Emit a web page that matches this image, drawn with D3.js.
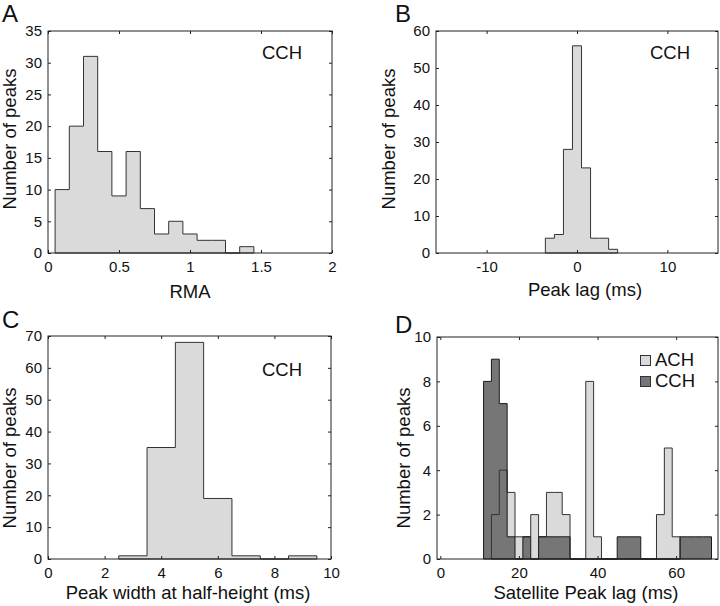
<!DOCTYPE html>
<html>
<head>
<meta charset="utf-8">
<script src="https://cdn.jsdelivr.net/npm/d3@7"></script>
<style>
  html, body { margin: 0; padding: 0; background: #fff; }
  svg { display: block; }
  text { font-family: "Liberation Sans", Arial, Helvetica, sans-serif; fill: #111; }
</style>
</head>
<body>
<svg id="chart" width="720" height="606"></svg>
<script>
// ---------------- DATA ----------------
// Panel A: RMA histogram (bin width 0.1)
const rmaCenters = [0.1, 0.2, 0.3, 0.4, 0.5, 0.6, 0.7, 0.8, 0.9, 1.0, 1.1, 1.2, 1.3, 1.4];
const rmaCounts  = [10, 20, 31, 16, 9, 16, 7, 3, 5, 3, 2, 2, 0, 1];
const rmaXTicks = [0, 0.5, 1, 1.5, 2];
const rmaYTicks = [0, 5, 10, 15, 20, 25, 30, 35];

// Panel B: peak lag histogram (bin width 1 ms)
const lagCenters = [-3, -2, -1, 0, 1, 2, 3, 4];
const lagCounts  = [4, 5, 28, 56, 23, 4, 4, 1];
const lagXTicks = [-10, 0, 10];
const lagYTicks = [0, 10, 20, 30, 40, 50, 60];

// Panel C: peak width at half-height (bin width 1 ms)
const widthCenters = [3, 4, 5, 6, 7, 8, 9];
const widthCounts  = [1, 35, 68, 19, 1, 0, 1];
const widthXTicks = [0, 2, 4, 6, 8, 10];
const widthYTicks = [0, 10, 20, 30, 40, 50, 60, 70];

// Panel D: satellite peak lag (bin width 2 ms)
const achCenters = [14, 16, 18, 20, 22, 24, 26, 28, 30, 32, 34, 36, 38, 40, 42, 44, 46, 48, 50, 52, 54, 56, 58, 60];
const achCounts  = [2, 4, 3, 1, 1, 2, 1, 3, 3, 2, 0, 0, 8, 1, 0, 0, 0, 0, 0, 0, 0, 2, 5, 1];
const cchCenters = [12, 14, 16, 18, 20, 22, 24, 26, 28, 30, 32, 34, 36, 38, 40, 42, 44, 46, 48, 50, 52, 54, 56, 58, 60, 62, 64, 66, 68];
const cchCounts  = [8, 9, 7, 1, 0, 1, 0, 1, 1, 1, 1, 0, 0, 0, 0, 0, 0, 1, 1, 1, 0, 0, 0, 0, 0, 1, 1, 1, 1];
const satXTicks = [0, 20, 40, 60];
const satYTicks = [0, 2, 4, 6, 8, 10];
const legendLabels = ["ACH", "CCH"];

// ---------------- DRAWING ----------------
const svg = d3.select("#chart");
const LIGHT = "#dadada";
const DARK = "#767676";
const OUTLINE = "#333";
const AXIS = "#222";
const TICK_FONT = 15;
const LABEL_FONT = 18.5;

function histPath(x, y, centers, counts, w) {
  const p = d3.path();
  p.moveTo(x(centers[0] - w / 2), y(0));
  centers.forEach((c, i) => {
    p.lineTo(x(c - w / 2), y(counts[i]));
    p.lineTo(x(c + w / 2), y(counts[i]));
  });
  p.lineTo(x(centers[centers.length - 1] + w / 2), y(0));
  p.closePath();
  return p.toString();
}

function panel(cfg) {
  const g = svg.append("g");
  const x = d3.scaleLinear().domain(cfg.xDomain).range(cfg.xRange);
  const y = d3.scaleLinear().domain(cfg.yDomain).range(cfg.yRange);
  const [x0, x1] = cfg.xRange, [y0, y1] = cfg.yRange; // y0 bottom, y1 top

  cfg.draw(g, x, y);

  // axes with inward ticks, all four sides
  const fmt = d => String(d);
  const bottom = g.append("g").attr("transform", `translate(0,${y0})`)
    .call(d3.axisBottom(x).tickValues(cfg.xTicks).tickFormat(fmt).tickSizeInner(-3).tickSizeOuter(0).tickPadding(8.4));
  const top = g.append("g").attr("transform", `translate(0,${y1})`)
    .call(d3.axisTop(x).tickValues(cfg.xTicks).tickFormat("").tickSizeInner(-3).tickSizeOuter(0));
  const left = g.append("g").attr("transform", `translate(${x0},0)`)
    .call(d3.axisLeft(y).tickValues(cfg.yTicks).tickFormat(fmt).tickSizeInner(-3).tickSizeOuter(0).tickPadding(6));
  const right = g.append("g").attr("transform", `translate(${x1},0)`)
    .call(d3.axisRight(y).tickValues(cfg.yTicks).tickFormat("").tickSizeInner(-3).tickSizeOuter(0));
  [bottom, top, left, right].forEach(a => {
    a.select(".domain").remove();
    a.selectAll(".tick line").attr("stroke", AXIS).attr("stroke-width", 1);
    a.selectAll(".tick text").attr("font-size", TICK_FONT)
      .attr("font-family", '"Liberation Sans", Arial, sans-serif').attr("fill", "#111");
  });
  g.append("rect")
    .attr("x", x0).attr("y", y1).attr("width", x1 - x0).attr("height", y0 - y1)
    .attr("fill", "none").attr("stroke", AXIS).attr("stroke-width", 1);

  // axis titles
  g.append("text").attr("x", cfg.xLabelX).attr("y", cfg.xLabelY)
    .attr("text-anchor", "middle").attr("font-size", LABEL_FONT).text(cfg.xLabel);
  g.append("text")
    .attr("transform", `translate(${cfg.yLabelX},${cfg.yLabelY}) rotate(-90)`)
    .attr("text-anchor", "middle").attr("font-size", LABEL_FONT).text("Number of peaks");
  // panel letter
  g.append("text").attr("x", cfg.letterX).attr("y", cfg.letterY)
    .attr("font-size", 24).text(cfg.letter);
  return { g, x, y };
}

function singleHist(centers, counts, w, label, lx, ly) {
  return (g, x, y) => {
    g.append("path").attr("d", histPath(x, y, centers, counts, w))
      .attr("fill", LIGHT).attr("stroke", OUTLINE).attr("stroke-width", 1)
      .attr("stroke-linejoin", "miter");
    g.append("text").attr("x", lx).attr("y", ly).attr("font-size", LABEL_FONT).text(label);
  };
}

// Panel A
panel({
  xDomain: [0, 2], xRange: [48, 332], yDomain: [0, 35], yRange: [253, 31],
  xTicks: rmaXTicks, yTicks: rmaYTicks,
  xLabel: "RMA", xLabelX: 190, xLabelY: 297.5,
  yLabelX: 16, yLabelY: 139,
  letter: "A", letterX: 2, letterY: 22,
  draw: singleHist(rmaCenters, rmaCounts, 0.1, "CCH", 262, 59)
});

// Panel B
panel({
  xDomain: [-15.6, 15.6], xRange: [436, 718], yDomain: [0, 60], yRange: [253, 31],
  xTicks: lagXTicks, yTicks: lagYTicks,
  xLabel: "Peak lag (ms)", xLabelX: 585, xLabelY: 296,
  yLabelX: 395, yLabelY: 139,
  letter: "B", letterX: 395, letterY: 22,
  draw: singleHist(lagCenters, lagCounts, 1, "CCH", 650, 59)
});

// Panel C
panel({
  xDomain: [0, 10], xRange: [48, 331], yDomain: [0, 70], yRange: [559, 336],
  xTicks: widthXTicks, yTicks: widthYTicks,
  xLabel: "Peak width at half-height (ms)", xLabelX: 188, xLabelY: 598.5,
  yLabelX: 16, yLabelY: 458,
  letter: "C", letterX: 2, letterY: 327.5,
  draw: singleHist(widthCenters, widthCounts, 1, "CCH", 262, 376)
});

// Panel D
panel({
  xDomain: [-0.85, 70.65], xRange: [437, 718], yDomain: [0, 10], yRange: [559, 337],
  xTicks: satXTicks, yTicks: satYTicks,
  xLabel: "Satellite Peak lag (ms)", xLabelX: 586, xLabelY: 598.5,
  yLabelX: 410, yLabelY: 458,
  letter: "D", letterX: 395, letterY: 333,
  draw: (g, x, y) => {
    const achD = histPath(x, y, achCenters, achCounts, 2);
    const cchD = histPath(x, y, cchCenters, cchCounts, 2);
    g.append("path").attr("d", achD).attr("fill", LIGHT).attr("stroke", "none");
    g.append("path").attr("d", cchD).attr("fill", DARK).attr("stroke", "none");
    g.append("path").attr("d", achD).attr("fill", "none").attr("stroke", OUTLINE).attr("stroke-width", 1);
    g.append("path").attr("d", cchD).attr("fill", "none").attr("stroke", "#1a1a1a").attr("stroke-width", 1);
    // legend
    const colors = [LIGHT, DARK];
    legendLabels.forEach((lab, i) => {
      g.append("rect").attr("x", 640.5).attr("y", 355.5 + i * 21).attr("width", 10).attr("height", 10)
        .attr("fill", colors[i]).attr("stroke", OUTLINE).attr("stroke-width", 1);
      g.append("text").attr("x", 655).attr("y", 366 + i * 21).attr("font-size", LABEL_FONT).text(lab);
    });
  }
});
</script>
</body>
</html>
